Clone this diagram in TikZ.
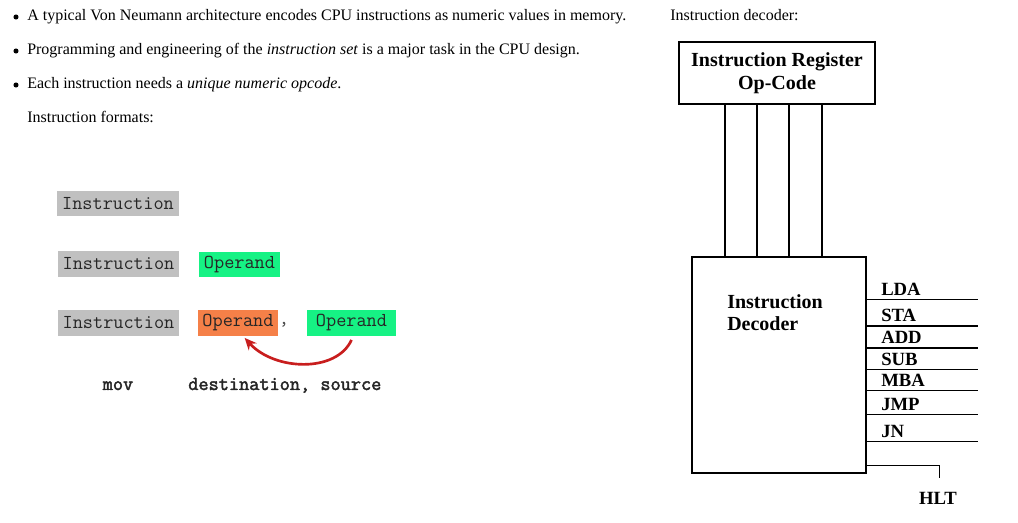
\documentclass[tikz,border=0pt]{standalone}
\usepackage{fontspec}
\setmainfont{Liberation Serif}
\newfontfamily\monofett{Latin Modern Mono}[FakeBold=2.2]
\usepackage{xcolor}
\definecolor{boxgrau}{RGB}{192, 192, 192}
\definecolor{opgruen}{RGB}{22, 242, 132}
\definecolor{oporange}{RGB}{245, 128, 72}
\definecolor{pfeilrot}{RGB}{200, 30, 30}
\usetikzlibrary{
    arrows.meta,
    positioning
}
\tikzstyle{fliess} = [
    font=\fontsize{12}{14}\selectfont,
    inner sep=0pt
]
\tikzstyle{feld} = [
    font=\ttfamily\fontsize{14.8}{16}\selectfont,
    text=black!85,
    inner xsep=3.6pt,
    inner ysep=0pt,
    minimum height=19pt
]
\tikzstyle{befehl} = [
    feld,
    fill=boxgrau
]
\tikzstyle{operand} = [
    feld,
    fill=opgruen
]
\tikzstyle{pfeil} = [
    pfeilrot,
    line width=2pt,
    -{Stealth[length=9pt, width=8pt]}
]
\tikzstyle{kasten} = [
    draw,
    font=\bfseries\fontsize{15}{17}\selectfont,
    align=center
]
\tikzstyle{signal} = [
    font=\bfseries\fontsize{14}{16}\selectfont,
    inner sep=0pt
]

\begin{document}
\begin{tikzpicture}[x=0.75pt, y=-0.75pt]
\useasboundingbox (0,0) rectangle (1018,523);

% Aufzaehlung oben links
\foreach \y/\txt in {21/{A typical Von Neumann architecture encodes CPU instructions as numeric values in memory.},
                     55/{Programming and engineering of the \textit{instruction set} is a major task in the CPU design.},
                     89/{Each instruction needs a \textit{unique numeric opcode}.}} {
    \fill (16,\y-4) circle (1.9pt) coordinate (punkt\y);
    \node[fliess, anchor=base west] (zeile\y) at (27,\y) {\txt};
}
\node[fliess, anchor=base west] (formate) at (27,123) {Instruction formats:};
\node[fliess, anchor=base west] (dectitel) at (670,21) {Instruction decoder:};

% Befehlsformate
\node[befehl] (ins1) at (118,203.5) {Instruction};

\node[befehl] (ins2) at (118.5,264) {Instruction};
\node[operand] (op2) at (239.5,264.5) {Operand};

\node[befehl] (ins3) at (118.5,323) {Instruction};
\node[feld, fill=oporange, minimum width=58.5pt] (ziel) at (238,323) {Operand};
\node[feld, text=black!70] (komma) at (284,325) {,};
\node[operand, minimum width=66.75pt] (quelle) at (351.5,323) {Operand};

% Pfeil von Quelle zu Ziel
\draw[pfeil] ([yshift=-3pt]quelle.south) .. controls +(-15,33) and +(30,33) .. ([xshift=5pt, yshift=-1.5pt]ziel.south);

% Beispiel darunter
\node[feld, font=\monofett\fontsize{14.8}{16}\selectfont, anchor=base] (mov) at (118,390) {mov};
\node[feld, font=\monofett\fontsize{14.8}{16}\selectfont, anchor=base west, inner xsep=0pt] (argumente) at (188,390) {destination, source};

% Instruction Register und Decoder
\node[kasten, line width=1.5pt, minimum width=147pt, minimum height=46.5pt] (ir) at (777,73) {Instruction Register\\Op-Code};
\node[draw, line width=1.1pt, minimum width=130.5pt, minimum height=162pt] (dec) at (779,365) {};
\node[kasten, draw=none, align=left, anchor=north west, inner sep=0pt] (dectext) at (727,294) {Instruction\\Decoder};

% Op-Code Leitungen
\foreach \x in {725,757,789,822} {
    \draw[line width=1.5pt] (ir.south -| \x,0) -- (dec.north -| \x,0);
}

% Ausgaenge des Decoders
\newcommand{\ausgang}[4]{
    \coordinate (#1) at (978,#2);
    \draw[line width=#4] (dec.east |- #1) -- (#1);
    \node[signal, anchor=base west] (#1txt) at (881,{#2-4}) {#3};
}

\ausgang{lda}{300}{LDA}{0.75pt};
\ausgang{sta}{326}{STA}{1.5pt};
\ausgang{add}{348}{ADD}{1.5pt};
\ausgang{sub}{370}{SUB}{0.75pt};
\ausgang{mba}{391}{MBA}{0.75pt};
\ausgang{jmp}{415}{JMP}{0.75pt};
\ausgang{jn}{442}{JN}{0.75pt};

% HLT
\coordinate (hltende) at (939,478);
\draw[line width=0.75pt] (dec.east |- hltende) ++(0,-12) -| (hltende);
\node[signal, anchor=base] (hlt) at (938,505) {HLT};

\end{tikzpicture}
\end{document}
